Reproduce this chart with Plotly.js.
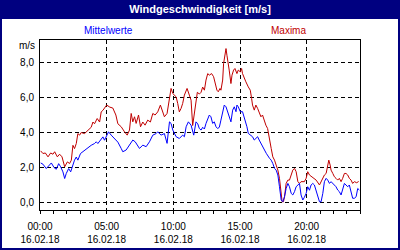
<!DOCTYPE html>
<html>
<head>
<meta charset="utf-8">
<script src="https://cdn.plot.ly/plotly-3.0.1.min.js"></script>
<style>html,body{margin:0;padding:0;background:#fff;}#chart{width:400px;height:250px;}</style>
</head>
<body>
<div id="chart"></div>
<script>
// Maxima (hours of day, m/s)
const maxHours = [0.05,0.22,0.40,0.60,0.80,0.97,1.10,1.30,1.47,1.65,1.85,2.05,2.22,2.35,2.47,2.59,2.72,2.84,2.97,3.09,3.34,3.59,3.84,3.97,4.09,4.29,4.47,4.59,4.72,5.00,5.24,5.46,5.69,5.84,
  6.09,6.34,6.54,6.71,6.84,6.96,7.09,7.21,7.39,7.54,7.71,7.88,8.08,8.28,8.46,8.63,8.83,9.03,9.21,9.33,9.53,9.71,9.83,9.96,10.08,10.21,10.33,10.45,10.58,10.70,10.83,11.03,11.20,11.33,11.45,11.58,11.80,
  11.95,12.08,12.20,12.33,12.45,12.58,12.70,12.87,13.02,13.12,13.27,13.37,13.50,13.57,13.70,13.77,13.87,13.95,14.02,14.07,14.19,14.32,14.40,14.52,14.62,14.77,14.87,15.02,15.12,15.19,15.32,15.44,15.62,15.77,15.87,15.94,16.07,16.19,16.32,16.44,16.57,16.69,16.82,16.94,17.07,
  17.22,17.34,17.46,17.59,17.71,17.84,17.96,18.09,18.16,18.26,18.34,18.46,18.59,18.71,18.84,18.96,19.09,19.21,19.34,19.46,19.58,19.71,19.83,19.96,20.08,20.21,20.33,20.46,20.71,20.96,21.08,21.21,21.33,21.46,21.58,21.66,21.76,21.83,21.96,22.08,22.20,22.33,22.45,22.58,22.70,22.83,22.95,23.08,23.20,23.33,23.45,23.58,23.75,23.90];
const maxValues = [2.95,2.80,2.83,2.61,2.83,2.76,2.90,2.61,2.76,2.61,2.04,2.32,2.23,2.42,3.27,3.08,3.37,3.94,3.85,4.00,3.94,4.10,4.30,4.60,4.50,4.80,4.60,5.18,5.27,5.57,5.45,5.40,5.00,4.50,
  4.33,4.04,3.85,4.14,5.09,4.61,4.90,4.52,5.00,4.33,4.60,4.42,4.71,4.60,5.09,5.00,5.18,5.57,5.09,4.90,5.09,5.85,6.52,6.23,6.14,6.04,5.66,5.18,5.38,5.66,6.14,6.52,6.14,5.85,4.40,5.18,6.30,
  6.20,6.30,6.60,6.42,7.00,7.37,7.28,7.37,7.19,6.80,6.42,6.33,6.52,6.42,7.00,7.95,8.52,8.80,8.42,8.23,7.57,6.80,7.28,7.57,7.66,7.37,7.57,7.47,7.66,7.37,7.09,6.90,6.61,6.42,5.95,5.57,5.28,5.57,5.38,5.19,4.90,5.00,4.61,4.42,4.23,
  3.50,3.09,2.61,2.42,2.14,1.85,1.38,0.62,0.04,0.04,0.33,1.09,1.28,1.28,1.57,1.85,1.95,1.76,1.19,1.09,1.19,1.19,1.19,1.38,1.76,1.57,1.50,1.38,1.28,1.00,1.19,1.38,1.57,1.66,2.04,2.42,2.14,1.85,1.66,1.47,1.38,1.28,1.38,1.19,1.38,1.66,1.66,1.57,1.38,1.28,1.09,1.19,1.13,1.20];

// Mittelwerte (hours of day, m/s)
const meanHours = [0.05,0.22,0.47,0.65,0.85,1.05,1.22,1.40,1.55,1.72,1.85,1.97,2.15,2.30,2.47,2.59,2.72,2.84,3.04,3.22,3.47,3.72,3.84,4.09,4.22,4.34,4.59,4.72,4.84,4.97,5.14,5.34,5.59,5.84,
  6.09,6.21,6.46,6.71,6.96,7.14,7.33,7.46,7.71,7.96,8.21,8.46,8.71,8.83,9.08,9.33,9.53,9.71,9.83,9.96,10.21,10.45,10.70,10.83,10.96,11.13,11.33,11.53,11.70,11.83,
  11.95,12.08,12.20,12.33,12.45,12.58,12.70,12.82,12.95,13.07,13.20,13.32,13.45,13.57,13.70,13.82,13.95,14.07,14.19,14.32,14.45,14.57,14.70,14.77,14.87,15.02,15.19,15.32,15.52,15.62,15.77,15.94,16.07,16.19,16.32,16.44,16.57,16.69,16.82,16.97,
  17.22,17.34,17.46,17.59,17.71,17.84,17.96,18.09,18.21,18.34,18.46,18.59,18.71,18.84,18.96,19.09,19.21,19.34,19.46,19.58,19.71,19.83,19.96,20.08,20.21,20.33,20.46,20.58,20.71,20.83,20.96,21.08,21.21,21.33,21.46,21.58,21.71,21.83,21.96,22.08,22.20,22.33,22.45,22.58,22.70,22.83,22.95,23.08,23.20,23.33,23.45,23.58,23.71,23.83,23.95];
const meanValues = [2.26,2.19,1.94,2.07,2.26,2.00,1.90,2.22,2.04,1.75,1.37,1.66,1.94,1.75,2.22,2.42,2.60,2.42,2.80,2.90,3.08,3.18,3.27,3.37,3.47,3.37,3.65,3.75,3.56,3.79,4.04,3.85,3.65,3.45,
  3.09,2.90,3.00,3.28,3.57,3.47,3.19,3.09,3.28,3.19,3.47,3.85,3.94,4.04,3.85,3.94,3.38,4.61,4.52,4.14,3.76,3.66,3.85,3.76,4.33,4.61,4.42,3.85,4.61,4.50,
  4.23,4.14,4.30,4.20,4.52,4.80,5.00,4.90,4.52,4.61,4.33,4.23,4.30,4.71,5.19,5.57,5.47,5.19,4.80,4.61,5.28,5.47,5.19,5.57,5.47,5.19,5.19,4.90,4.33,3.95,3.85,3.76,3.57,3.66,3.76,3.57,3.38,3.19,3.00,2.81,
  2.52,2.42,2.23,1.95,1.85,1.57,0.90,0.14,0.04,0.33,0.80,1.09,0.90,0.52,0.43,0.62,0.90,1.00,1.09,0.43,0.14,0.30,0.52,0.90,0.70,1.00,1.09,1.00,0.71,0.33,0.04,0.04,0.52,1.19,1.38,1.28,1.09,1.19,1.09,1.00,0.90,0.71,0.62,0.43,0.80,1.09,1.00,0.90,1.00,0.62,0.24,0.24,0.33,0.80,0.71];

const xTickHours = [0, 5, 10, 15, 20];
const xTickTimes = ["00:00", "05:00", "10:00", "15:00", "20:00"];
const xTickDate = "16.02.18";
const yTickValues = [0, 2, 4, 6, 8];
const yTickLabels = ["0,0", "2,0", "4,0", "6,0", "8,0"];

const chartTitle = "Windgeschwindigkeit [m/s]";
const meanName = "Mittelwerte";
const maxName = "Maxima";
const unitLabel = "m/s";

const NAVY = "#000080";
const RED = "#c00000";
const BLUE = "#0000ff";
const FONT = "Liberation Sans, Arial, sans-serif";

const traces = [
  {x: maxHours, y: maxValues, type: "scatter", mode: "lines", name: maxName,
   line: {color: RED, width: 1}, hoverinfo: "skip"},
  {x: meanHours, y: meanValues, type: "scatter", mode: "lines", name: meanName,
   line: {color: BLUE, width: 1}, hoverinfo: "skip"}
];

// pixel -> paper helpers (plot area x 40..360, y 40..210)
const px = p => (p - 40) / 320;
const py = p => (210 - p) / 170;

const layout = {
  width: 400, height: 250,
  margin: {l: 40, r: 40, t: 40, b: 40, pad: 0},
  paper_bgcolor: "#ffffff", plot_bgcolor: "#ffffff",
  showlegend: false,
  font: {family: FONT, size: 10, color: "#000000"},
  title: {text: "<b>" + chartTitle + "</b>", font: {family: FONT, size: 11, color: "#ffffff"},
          x: 0.5, xref: "paper", xanchor: "center", y: 1 - 9.5/250, yref: "container", yanchor: "middle"},
  xaxis: {
    range: [0, 24], fixedrange: true,
    tickmode: "array", tickvals: xTickHours,
    ticktext: xTickTimes.map(t => t + "<br>" + xTickDate),
    ticks: "outside", ticklen: 3, tickcolor: "#000", tickwidth: 1,
    minor: {tickmode: "linear", tick0: 0, dtick: 1, ticks: "outside", ticklen: 3, tickcolor: "#000", showgrid: false},
    showgrid: true, gridcolor: "#000000", gridwidth: 1, griddash: "4px,3px",
    zeroline: false, showline: true, linecolor: "#000", linewidth: 1, mirror: true,
    tickfont: {family: FONT, size: 10, color: "#000"}, ticklabelstandoff: 4
  },
  yaxis: {
    range: [-0.43, 9.29], fixedrange: true,
    tickmode: "array", tickvals: yTickValues, ticktext: yTickLabels,
    ticks: "", showgrid: true, gridcolor: "#000000", gridwidth: 1, griddash: "4px,3px",
    zeroline: false, showline: true, linecolor: "#000", linewidth: 1, mirror: true,
    tickfont: {family: FONT, size: 10, color: "#000"}, ticklabelstandoff: 3
  },
  shapes: [
    {type: "rect", xref: "paper", yref: "paper", x0: px(0), x1: px(400), y0: py(0), y1: py(19),
     fillcolor: NAVY, line: {width: 0}, layer: "below"},
    {type: "rect", xref: "paper", yref: "paper", x0: px(1), x1: px(399), y0: py(1), y1: py(249),
     fillcolor: "rgba(0,0,0,0)", line: {color: NAVY, width: 2}, layer: "above"}
  ],
  annotations: [
    {text: meanName, xref: "paper", yref: "paper", x: px(108), y: py(31), xanchor: "center", yanchor: "middle",
     showarrow: false, font: {family: FONT, size: 10, color: BLUE}},
    {text: maxName, xref: "paper", yref: "paper", x: px(288), y: py(31), xanchor: "center", yanchor: "middle",
     showarrow: false, font: {family: FONT, size: 10, color: RED}},
    {text: unitLabel, xref: "paper", yref: "paper", x: px(37), y: py(45.5), xanchor: "right", yanchor: "middle",
     showarrow: false, font: {family: FONT, size: 10, color: "#000"}}
  ]
};

Plotly.newPlot("chart", traces, layout, {staticPlot: true, displayModeBar: false});
</script>
</body>
</html>
